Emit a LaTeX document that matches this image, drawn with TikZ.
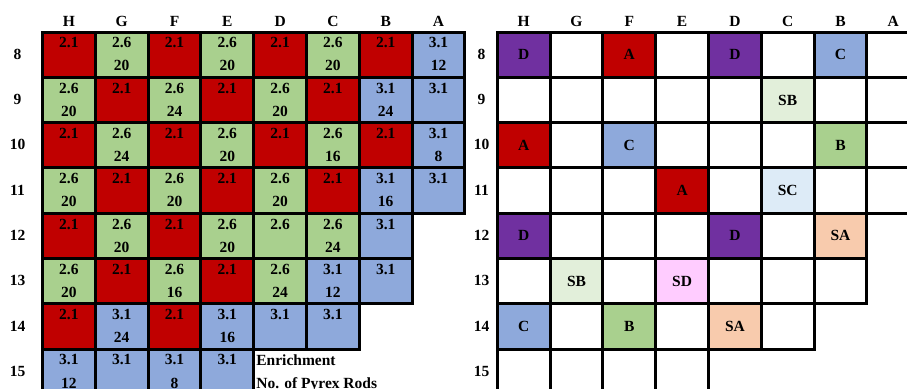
\documentclass[tikz,border=0pt]{standalone}
\usepackage{fontspec}
\setmainfont{Liberation Serif}
\definecolor{cr}{HTML}{C00000}
\definecolor{cg}{HTML}{A9D08E}
\definecolor{cb}{HTML}{8EA9DB}
\definecolor{cp}{HTML}{7030A0}
\definecolor{csb}{HTML}{E2EFDA}
\definecolor{csc}{HTML}{DDEBF7}
\definecolor{csa}{HTML}{F8CBAD}
\definecolor{csd}{HTML}{FFCCFF}
\definecolor{cw}{HTML}{FFFFFF}
\tikzset{
  cellbox/.style={minimum width=52.8pt, minimum height=45.3pt, inner sep=0pt, outer sep=0pt},
  gridline/.style={line width=3pt, draw=black},
  txt/.style={font=\fontsize{15.5}{18}\selectfont\bfseries, inner sep=0pt},
}
\def\leftcells{%
0/0/cr/2.1/{},1/0/cg/2.6/20,2/0/cr/2.1/{},3/0/cg/2.6/20,4/0/cr/2.1/{},5/0/cg/2.6/20,6/0/cr/2.1/{},7/0/cb/3.1/12,%
0/1/cg/2.6/20,1/1/cr/2.1/{},2/1/cg/2.6/24,3/1/cr/2.1/{},4/1/cg/2.6/20,5/1/cr/2.1/{},6/1/cb/3.1/24,7/1/cb/3.1/{},%
0/2/cr/2.1/{},1/2/cg/2.6/24,2/2/cr/2.1/{},3/2/cg/2.6/20,4/2/cr/2.1/{},5/2/cg/2.6/16,6/2/cr/2.1/{},7/2/cb/3.1/8,%
0/3/cg/2.6/20,1/3/cr/2.1/{},2/3/cg/2.6/20,3/3/cr/2.1/{},4/3/cg/2.6/20,5/3/cr/2.1/{},6/3/cb/3.1/16,7/3/cb/3.1/{},%
0/4/cr/2.1/{},1/4/cg/2.6/20,2/4/cr/2.1/{},3/4/cg/2.6/20,4/4/cg/2.6/{},5/4/cg/2.6/24,6/4/cb/3.1/{},%
0/5/cg/2.6/20,1/5/cr/2.1/{},2/5/cg/2.6/16,3/5/cr/2.1/{},4/5/cg/2.6/24,5/5/cb/3.1/12,6/5/cb/3.1/{},%
0/6/cr/2.1/{},1/6/cb/3.1/24,2/6/cr/2.1/{},3/6/cb/3.1/16,4/6/cb/3.1/{},5/6/cb/3.1/{},%
0/7/cb/3.1/12,1/7/cb/3.1/{},2/7/cb/3.1/8,3/7/cb/3.1/{}}
\def\rightcells{%
0/0/cp/D,1/0/cw/{},2/0/cr/A,3/0/cw/{},4/0/cp/D,5/0/cw/{},6/0/cb/C,7/0/cw/{},%
0/1/cw/{},1/1/cw/{},2/1/cw/{},3/1/cw/{},4/1/cw/{},5/1/csb/SB,6/1/cw/{},7/1/cw/{},%
0/2/cr/A,1/2/cw/{},2/2/cb/C,3/2/cw/{},4/2/cw/{},5/2/cw/{},6/2/cg/B,7/2/cw/{},%
0/3/cw/{},1/3/cw/{},2/3/cw/{},3/3/cr/A,4/3/cw/{},5/3/csc/SC,6/3/cw/{},7/3/cw/{},%
0/4/cp/D,1/4/cw/{},2/4/cw/{},3/4/cw/{},4/4/cp/D,5/4/cw/{},6/4/csa/SA,%
0/5/cw/{},1/5/csb/SB,2/5/cw/{},3/5/csd/SD,4/5/cw/{},5/5/cw/{},6/5/cw/{},%
0/6/cb/C,1/6/cw/{},2/6/cg/B,3/6/cw/{},4/6/csa/SA,5/6/cw/{},%
0/7/cw/{},1/7/cw/{},2/7/cw/{},3/7/cw/{}}
\begin{document}
\begin{tikzpicture}[x=1pt,y=-1pt]
\useasboundingbox (0,0) rectangle (907,388);
% left grid fills
\foreach \c/\r/\col/\a/\b in \leftcells {
  \node[cellbox, fill=\col] (L-\c-\r) at ({42.5+52.8*\c+26.4},{32+45.3*\r+22.65}) {};
}
% right grid fills
\foreach \c/\r/\col/\a in \rightcells {
  \node[cellbox, fill=\col] (R-\c-\r) at ({497.3+52.8*\c+26.4},{32+45.3*\r+22.65}) {};
}
% borders and texts
\foreach \c/\r/\col/\a/\b in \leftcells {
  \draw[gridline] (L-\c-\r.north west) rectangle (L-\c-\r.south east);
  \node[txt, anchor=base] (La-\c-\r) at ([yshift=-15.8pt]L-\c-\r.north) {\a};
  \node[txt, anchor=base] (Lb-\c-\r) at ([yshift=-38.9pt]L-\c-\r.north) {\b};
}
\foreach \c/\r/\col/\a in \rightcells {
  \draw[gridline] (R-\c-\r.north west) rectangle (R-\c-\r.south east);
  \node[txt] (Rt-\c-\r) at (R-\c-\r.center) {\a};
}
% column labels
\foreach \n [count=\i from 0] in {H,G,F,E,D,C,B,A} {
  \node[txt, anchor=base] (LC-\i) at ({42.5+52.8*\i+26.4},26) {\n};
  \node[txt, anchor=base] (RC-\i) at ({497.3+52.8*\i+26.4},26) {\n};
}
% row labels
\foreach \n [count=\i from 0] in {8,9,10,11,12,13,14,15} {
  \node[txt] (LR-\i) at (17.5,{32+45.3*\i+22.3}) {\n};
  \node[txt] (RR-\i) at (481.5,{32+45.3*\i+22.3}) {\n};
}
% legend text
\node[txt, anchor=base west] (enr) at ([xshift=2.5pt,yshift=-16.6pt]L-3-7.north east) {Enrichment};
\node[txt, anchor=base west] (pyr) at ([xshift=2.5pt,yshift=-39.6pt]L-3-7.north east) {No. of Pyrex Rods};
\end{tikzpicture}
\end{document}
